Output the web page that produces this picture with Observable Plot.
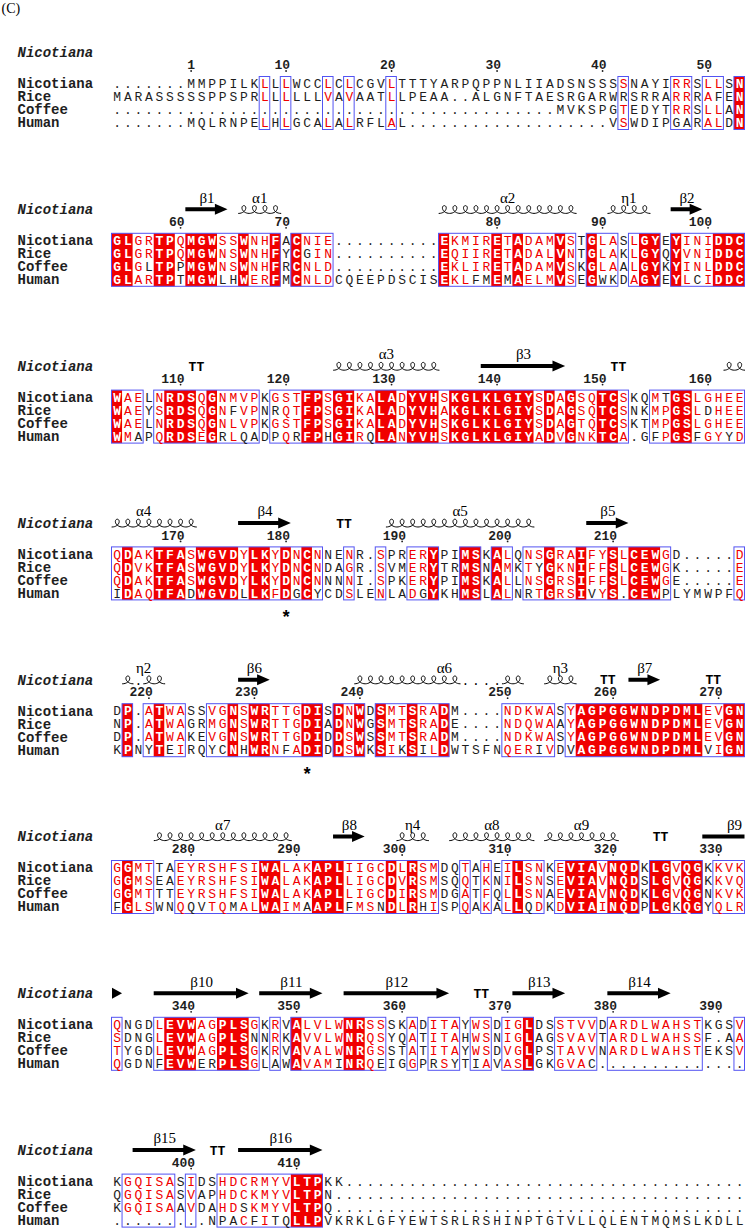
<!DOCTYPE html>
<html>
<head>
<meta charset="utf-8">
<script src="https://cdn.jsdelivr.net/npm/d3@7"></script>
<script src="https://cdn.jsdelivr.net/npm/@observablehq/plot@0.6"></script>
<style>
html,body{margin:0;padding:0;background:#fff;}
#chart svg{display:block;}
</style>
</head>
<body>
<div id="chart"></div>
<script>
// ---------------- DATA ----------------
const species = ["Nicotiana", "Rice", "Coffee", "Human"];

const nicotiana = [
  ".......MMPPILKLLLWCCLCLCGVLTTTYARPQPPNLIIADSNSSSSNAYIRRSLLSN",
  "GLGRTPQMGWSSWNHFACNIE..........EKMIRETADAMVSTGLASLGYEYINIDDC",
  "WAELNRDSQGNMVPKGSTFPSGIKALADYVHSKGLKLGIYSDAGSQTCSKQMTGSLGHEE",
  "QDAKTFASWGVDYLKYDNCNNENR.SPRERYPIMSKALQNSGRAIFYSLCEWGD.....D",
  "DP.ATWASSVGNSWRTTGDISDNWDSMTSRADM....NDKWASYAGPGGWNDPDMLEVGN",
  "GGMTTAEYRSHFSIWALAKAPLIIGCDLRSMDQTAHEILSNKEVIAVNQDKLGVQGKKVK",
  "QNGDLEVWAGPLSGKRVALVLWNRSSSKADITAYWSDIGLDSSTVVDARDLWAHSTKGSV",
  "KGQISASIDSHDCRMYVLTPKK" + ".........." + ".........." + ".........." + "........"
];
const rice = [
  "MARASSSSSPPSPRLLLLLLVAVAATLLPEAA..ALGNFTAESRGARWRSRRARRRAFEN",
  "GLGRTPQMGWNSWNHFYCGIN..........EQIIRETADALVNTGLAKLGYQYVNIDDC",
  "WAEYSRDSQGNFVPNRQTFPSGIKALADYVHAKGLKLGIYSDAGSQTCSNKMPGSLDHEE",
  "QDVKTFASWGVDYLKYDNCNDAGR.SVMERYTRMSNAMKTYGKNIFFSLCEWGK.....E",
  "NP.ATWAGRMGNSWRTTGDIADNWGSMTSRADE....NDQWAAYAGPGGWNDPDMLEVGN",
  "GGMSEAEYRSHFSIWALAKAPLLIGCDVRSMSQQTKNILSNSEVIAVNQDSLGVQGKKVQ",
  "SDNGLEVWAGPLSNNRKAVVLWNRQSYQATITAHWSNIGLAGSVAVTARDLWAHSSF.AA",
  "QGQISASVAPHDCKMYVLTPN" + ".........." + ".........." + ".........." + "........."
];
const coffee = [
  ".........." + ".........." + ".........." + ".........." + ".." + "MVKSPGTEDYTRRSLLAN",
  "GLGLTPPMGWNSWNHFRCNLD..........EKLIRETADAMVSKGLAALGYKYINLDDC",
  "WAELNRDSQGNLVPKGSTFPSGIKALADYVHSKGLKLGIYSDAGTQTCSKTMPGSLGHEE",
  "QDAKTFASWGVDYLKYDNCNNNNI.SPKERYPIMSKALLNSGRSIFFSLCEWGE.....E",
  "DP.ATWAKEVGNSWRTTGDIDDSWSSMTSRADM....NDKWASYAGPGGWNDPDMLEVGN",
  "GGMTTTEYRSHFSIWALAKAPLLIGCDIRSMDGATFQLLSNAEVIAVNQDKLGVQGNKVK",
  "TYGDLEVWAGPLSGKRVAVALWNRGSSTATITAYWSDVGLPSTAVVNARDLWAHSTEKSV",
  "KGQISAAVDAHDSKMYVLTPQ" + ".........." + ".........." + ".........." + "........."
];
const human = [
  "......." + "MQLRNPELHLGCALALRFLAL" + ".........." + "........." + "VSWDIPGARALDN",
  "GLARTPTMGWLHWERFMCNLDCQEEPDSCISEKLFMEMAELMVSEGWKDAGYEYLCIDDC",
  "WMAPQRDSEGRLQADPQRFPHGIRQLANYVHSKGLKLGIYADVGNKTCA.GFPGSFGYYD",
  "IDAQTFADWGVDLLKFDGCYCDSLENLADGYKHMSLALNRTGRSIVYS.CEWPLYMWPFQ",
  "KPNYTEIRQYCNHWRNFADIDDSWKSIKSILDWTSFNQERIVDVAGPGGWNDPDMLVIGN",
  "FGLSWNQQVTQMALWAIMAAPLFMSNDLRHISPQAKALLQDKDVIAINQDPLGKQGYQLR",
  "QGDNFEVWERPLSGLAWAVAMINRQEIGGPRSYTIAVASLGKGVAC" + ".........." + "....",
  "........." + "NPACFITQLLPVKRKLGFYEWTSRLRSHINPTGTVLLQLENTMQMSLKDLL"
];

// column conservation: F = strictly conserved (red box), S = similar (blue frame), - = none
const conservation = [
  "--------------" + "S-S---S-S---S" + "---------------------" + "S----SS-SS-F",
  "FFSSFFSFFFSSFSSF-FSSS" + "----------" + "FSSSSFSFSSSFS" + "-FSS-SFF-FSSSFFF",
  "FSS-SFFFSFSSSS-" + "SSSFFSFFSSFFSFFFS" + "FFFFFFFFSFSFSSFFS" + "--SSFFSSSSS",
  "SFSSFFFSFFFFSFFSFSFS" + "--S--S--SSF--FF-FS-" + "SSFSSFSSFSFFFS------S",
  "-F-SFSS--SSFSFFSSSFF" + "-FSF-FSSFSSF-----" + "SSSSS-S" + "FFFFFFFFFFFF" + "SSFF",
  "SFSS--SSSSSSSSFFSSSF" + "FFSSSSFSFSS--S-S-SFSS" + "-SFFFSFFF-FFSFF-SSS",
  "S---SFFFSSFFFS-S-FSS" + "SSFFSS--S-SSS-SS-SSF" + "--SSSS-SSSSSSSSS---S",
  "-SSSSS-S--SSSSSSSFFF" + "----------" + "----------" + "----------" + "----------"
];

// secondary structure of Nicotiana (block index 0-7, columns 1-60)
const strands = [
  {b: 1, from: 8, to: 11, label: "β1"},
  {b: 1, from: 54, to: 56, label: "β2"},
  {b: 2, from: 36, to: 43, label: "β3"},
  {b: 3, from: 13, to: 17, label: "β4"},
  {b: 3, from: 46, to: 49, label: "β5"},
  {b: 4, from: 13, to: 15, label: "β6"},
  {b: 4, from: 50, to: 52, label: "β7"},
  {b: 5, from: 22, to: 24, label: "β8"},
  {b: 5, from: 57, to: 60, label: "β9", head: false, lx: 59.5},
  {b: 6, from: 1, to: 1, label: "", headOnly: true},
  {b: 6, from: 5, to: 13, label: "β10"},
  {b: 6, from: 15, to: 20, label: "β11"},
  {b: 6, from: 23, to: 32, label: "β12"},
  {b: 6, from: 39, to: 43, label: "β13"},
  {b: 6, from: 48, to: 53, label: "β14"},
  {b: 7, from: 3, to: 8, label: "β15"},
  {b: 7, from: 13, to: 20, label: "β16"}
];
const helices = [
  {b: 1, from: 13, to: 16, label: "α1"},
  {b: 1, from: 32, to: 44, label: "α2"},
  {b: 1, from: 48, to: 51, label: "η1"},
  {b: 2, from: 22, to: 31, label: "α3"},
  {b: 2, from: 59, to: 60, label: ""},
  {b: 3, from: 1, to: 8, label: "α4", lx: 3.5},
  {b: 3, from: 27, to: 40, label: "α5"},
  {b: 4, from: 2, to: 2, label: "η2", lx: 3.5},
  {b: 4, from: 4, to: 5, label: ""},
  {b: 4, from: 24, to: 33, label: "α6", lx: 32},
  {b: 4, from: 38, to: 39, label: ""},
  {b: 4, from: 42, to: 44, label: "η3"},
  {b: 5, from: 5, to: 17, label: "α7"},
  {b: 5, from: 28, to: 30, label: "η4"},
  {b: 5, from: 33, to: 40, label: "α8"},
  {b: 5, from: 42, to: 48, label: "α9"}
];
const helixGaps = [
  {b: 4, col: 3}, {b: 4, col: 34}, {b: 4, col: 35}, {b: 4, col: 36}, {b: 4, col: 37}
];
const turns = [
  {b: 2, col: 8}, {b: 2, col: 48}, {b: 3, col: 22}, {b: 4, col: 47},
  {b: 4, col: 57}, {b: 5, col: 52}, {b: 6, col: 35}, {b: 7, col: 10}
];
const sites = [{b: 3, col: 17}, {b: 4, col: 19}];

// ---------------- LAYOUT ----------------
const W = 745, H = 1231;
const X0 = 111.5, COLW = 10.55, NCOL = 60;
const ROW0 = 83.5, BLOCK = 156.8, ROWH = 13;
const SS_DY = -31, LABEL_DY = -43, NUM_DY = -19, TICK_DY = -13;
const MONO = "'Liberation Mono', 'Courier New', monospace";
const SERIF = "'Liberation Serif', 'Times New Roman', serif";
const RED = "#f00000", BLUE = "#5353f2", INK = "#1e1e1e";

const seqs = [nicotiana, rice, coffee, human];
seqs.forEach((s, i) => s.forEach((row, b) => {
  if (row.length !== NCOL) throw new Error(species[i] + " block " + b + " length " + row.length);
}));
conservation.forEach((c, b) => { if (c.length !== NCOL) throw new Error("cons " + b + " " + c.length); });

const rowY = (b, r) => ROW0 + b * BLOCK + r * ROWH;
const blocks = d3.range(8);

const groups = ["AILMV", "FYWH", "KRHQ", "DENQ", "STNA", "AGS"];
const similar = (a, c) => a === c || groups.some(g => g.includes(a) && g.includes(c));

const cells = [];
for (const b of blocks) {
  for (let c = 0; c < NCOL; c++) {
    const column = seqs.map(s => s[b][c]);
    const cls = conservation[b][c];
    column.forEach((ch, r) => {
      let tone = "ink";
      if (ch !== ".") {
        if (cls === "F") tone = "white";
        else if (cls === "S" && column.some((o, j) => j !== r && o !== "." && similar(ch, o))) tone = "red";
      }
      cells.push({b, r, c, ch, tone});
    });
  }
}

function runs(pred) {
  const out = [];
  for (const b of blocks) {
    let start = null;
    for (let c = 0; c <= NCOL; c++) {
      const on = c < NCOL && pred(conservation[b][c]);
      if (on && start === null) start = c;
      if (!on && start !== null) { out.push({b, x1: start, x2: c}); start = null; }
    }
  }
  return out;
}
const fillRuns = runs(k => k === "F");
const boxRuns = runs(k => k === "F" || k === "S");

// residue numbering of Nicotiana
const ticks = [];
let res = 0;
for (const b of blocks) for (let c = 0; c < NCOL; c++) {
  if (nicotiana[b][c] !== ".") {
    res++;
    if (res === 1 || res % 10 === 0) ticks.push({b, c, n: String(res)});
  }
}

const labelRows = [];
for (const b of blocks) species.forEach((name, r) => labelRows.push({b, r, name}));

// arrow polygons
const HEAD = 1.2, BH = 2, HH = 5.5;
const arrowPts = [];
strands.forEach((s, i) => {
  const yc = rowY(s.b, 0) + SS_DY;
  const a = s.from - 1, e = s.to;
  if (s.headOnly) {
    arrowPts.push({id: i, x: a + 0.05, ya: yc - HH, yb: yc + HH}, {id: i, x: e, ya: yc, yb: yc});
  } else if (s.head === false) {
    arrowPts.push({id: i, x: a, ya: yc - BH, yb: yc + BH}, {id: i, x: e, ya: yc - BH, yb: yc + BH});
  } else {
    arrowPts.push(
      {id: i, x: a, ya: yc - BH, yb: yc + BH},
      {id: i, x: e - HEAD, ya: yc - BH, yb: yc + BH},
      {id: i, x: e - HEAD, ya: yc - HH, yb: yc + HH},
      {id: i, x: e, ya: yc, yb: yc}
    );
  }
});

// helix springs
const coilPts = [];
helices.forEach((h, i) => {
  const yc = rowY(h.b, 0) + SS_DY;
  const n = h.to - h.from + 1;
  const steps = n * 28;
  for (let k = 0; k <= steps; k++) {
    const t = -Math.PI + 2 * Math.PI * n * k / steps;
    coilPts.push({id: i, x: h.from - 0.5 + t / (2 * Math.PI) - 0.4 * Math.sin(t), y: yc - 0.3 - 3.9 * Math.cos(t)});
  }
});

const ssLabels = [...strands, ...helices].filter(d => d.label)
  .map(d => ({b: d.b, x: (d.lx ?? (d.from + d.to) / 2) - 0.5, label: d.label}));

const chart = Plot.plot({
  width: W,
  height: H,
  margin: 0,
  x: {domain: [0, NCOL], range: [X0, X0 + NCOL * COLW], axis: null},
  y: {domain: [0, H], range: [0, H], axis: null},
  marks: [
    Plot.rect(fillRuns, {x1: "x1", x2: "x2", y1: d => rowY(d.b, 0) - 7, y2: d => rowY(d.b, 3) + 7, fill: RED}),
    Plot.rect(boxRuns, {x1: "x1", x2: "x2", y1: d => rowY(d.b, 0) - 7, y2: d => rowY(d.b, 3) + 7, fill: "none", stroke: BLUE, strokeWidth: 1}),
    Plot.text(cells.filter(d => d.tone === "white"), {x: d => d.c + 0.5, y: d => rowY(d.b, d.r), text: "ch", fill: "white", fontWeight: "bold", fontFamily: MONO, fontSize: 13}),
    Plot.text(cells.filter(d => d.tone === "red"), {x: d => d.c + 0.5, y: d => rowY(d.b, d.r), text: "ch", fill: RED, fontFamily: MONO, fontSize: 13}),
    Plot.text(cells.filter(d => d.tone === "ink"), {x: d => d.c + 0.5, y: d => rowY(d.b, d.r), text: "ch", fill: INK, fontFamily: MONO, fontSize: 13}),
    Plot.text(labelRows, {frameAnchor: "left", dx: 17, y: d => rowY(d.b, d.r), text: "name", textAnchor: "start", fill: INK, fontFamily: MONO, fontWeight: "bold", fontSize: 14}),
    Plot.text(blocks, {frameAnchor: "left", dx: 17, y: b => rowY(b, 0) + SS_DY, text: () => "Nicotiana", textAnchor: "start", fill: INK, fontFamily: MONO, fontStyle: "italic", fontWeight: "bold", fontSize: 14}),
    Plot.text(ticks, {x: d => d.c + 0.5, dx: 4, y: d => rowY(d.b, 0) + NUM_DY, text: "n", textAnchor: "end", fill: INK, fontFamily: MONO, fontWeight: "bold", fontSize: 13}),
    Plot.dot(ticks, {x: d => d.c + 0.5, y: d => rowY(d.b, 0) + TICK_DY, r: 0.9, fill: INK}),
    Plot.area(arrowPts, {x1: "x", y1: "ya", y2: "yb", z: "id", fill: "black", curve: "linear"}),
    Plot.line(coilPts, {x: "x", y: "y", z: "id", stroke: "black", strokeWidth: 1, curve: "linear"}),
    Plot.text(helixGaps, {x: d => d.col - 0.5, y: d => rowY(d.b, 0) + SS_DY + 1, text: () => ".", fill: "black", fontFamily: MONO, fontSize: 13}),
    Plot.text(turns, {x: d => d.col, y: d => rowY(d.b, 0) + SS_DY, text: () => "TT", fill: "black", fontFamily: MONO, fontWeight: "bold", fontSize: 13}),
    Plot.text(ssLabels, {x: "x", y: d => rowY(d.b, 0) + LABEL_DY, text: "label", fill: "black", fontFamily: SERIF, fontSize: 15}),
    Plot.text(sites, {x: d => d.col - 0.5, y: d => rowY(d.b, 3) + 24, text: () => "*", fill: "black", fontFamily: MONO, fontWeight: "bold", fontSize: 18}),
    Plot.text(["(C)"], {frameAnchor: "top-left", dx: 1, dy: 3, text: d => d, textAnchor: "start", lineAnchor: "top", fill: "black", fontFamily: SERIF, fontSize: 14})
  ]
});
document.getElementById("chart").appendChild(chart);
</script>
</body>
</html>
